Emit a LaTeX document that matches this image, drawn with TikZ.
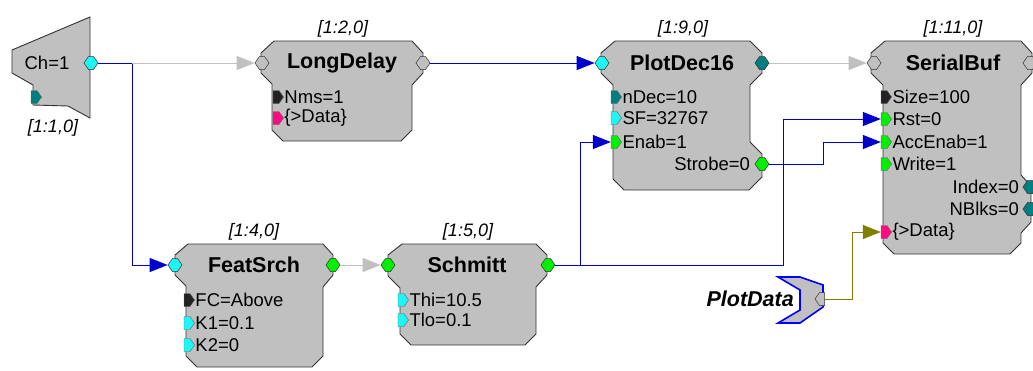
\documentclass[tikz,border=0pt]{standalone}
\usepackage{fontspec}
\setmainfont{Liberation Sans}
\usetikzlibrary{arrows.meta,shapes.symbols}
\definecolor{blockgray}{HTML}{C0C0C0}
\definecolor{wireblue}{HTML}{0000CC}
\definecolor{wiregray}{HTML}{C0C0C0}
\definecolor{wireolive}{HTML}{808000}
\definecolor{pcyan}{HTML}{1EF5F5}
\definecolor{pteal}{HTML}{007F80}
\definecolor{pgreen}{HTML}{00F000}
\definecolor{pmag}{HTML}{FF0A82}
\definecolor{pblack}{HTML}{222222}

\begin{document}
\begin{tikzpicture}[x=1pt,y=-1pt,
    block/.style={fill=blockgray,draw=black!80,line width=0.9pt},
    pin/.style={signal,signal to=east and west,signal pointer angle=110,draw=black!80,line width=0.5pt,
      inner xsep=2.5pt,inner ysep=6.5pt,minimum width=0pt,minimum height=0pt},
    par/.style={signal,signal to=east,signal pointer angle=110,draw=black!60,line width=0.4pt,
      inner xsep=3pt,inner ysep=6.5pt,minimum width=0pt,minimum height=0pt},
    title/.style={font=\fontsize{21.5}{24}\selectfont\bfseries,inner sep=0pt},
    lbl/.style={font=\fontsize{18}{22}\selectfont\itshape,inner sep=0pt},
    txt/.style={font=\fontsize{18.5}{22}\selectfont,inner sep=0.5pt},
    wire/.style={draw=wireblue,line width=1pt},
    graywire/.style={draw=wiregray,line width=1pt},
    olivewire/.style={draw=wireolive,line width=1pt},
    tip/.style={-{Triangle[length=18pt,width=14pt]}}]
  \useasboundingbox (0,0) rectangle (1033,370);
  % blocks
  \draw[block] (90,17) -- (12,50) -- (12,73) -- (33,85) -- (33,105) -- (68,106) -- (90,118) -- cycle;
  \draw[block] (274,41) -- (412,41) -- (423,53) -- (423,73) -- (412,85) -- (412,130) -- (401,141)
    -- (283,141) -- (272,130) -- (272,84) -- (261,73) -- (261,53) -- cycle;
  \draw[block] (615,41) -- (750,41) -- (762,53) -- (762,73) -- (750,85) -- (750,142) -- (762,154)
    -- (762,177) -- (749,190) -- (624,190) -- (613,179) -- (613,85) -- (601,73) -- (601,53) -- cycle;
  \draw[block] (885,41) -- (1021,41) -- (1032,53) -- (1032,73) -- (1021,85) -- (1021,175) -- (1031,186)
    -- (1031,222) -- (1021,233) -- (1021,243) -- (1010,254) -- (894,254) -- (883,243) -- (883,85)
    -- (871,73) -- (871,53) -- cycle;
  \draw[block] (188,244) -- (323,244) -- (333,255) -- (333,275) -- (323,287) -- (323,356) -- (312,367)
    -- (197,367) -- (186,356) -- (186,286) -- (175,275) -- (175,255) -- cycle;
  \draw[block] (402,244) -- (536,244) -- (547,255) -- (547,275) -- (536,287) -- (536,334) -- (525,345)
    -- (411,345) -- (400,334) -- (400,288) -- (388,276) -- (388,255) -- cycle;
  \draw[fill=blockgray,draw=blue,line width=1.6pt] (778,277) -- (800,277) -- (823,285) -- (823,307)
    -- (800,323) -- (778,323) -- (800,310) -- (800,290) -- cycle;
  % ports
  \node[pin,fill=pcyan] (chout) at (91,63) {};
  \node[par,fill=pteal] (chpar) at (34,97) {};
  \node[pin,fill=blockgray] (ldin) at (262,63) {};
  \node[pin,fill=blockgray] (ldout) at (423,63) {};
  \node[par,fill=pblack] (ldnms) at (276,97) {};
  \node[par,fill=pmag] (lddata) at (276,118) {};
  \node[pin,fill=pcyan] (pdin) at (602,63) {};
  \node[pin,fill=pteal] (pdout) at (762,63) {};
  \node[par,fill=pteal] (ndec) at (614,97) {};
  \node[par,fill=pcyan] (sf) at (614,118) {};
  \node[par,fill=pgreen] (enab) at (614,142) {};
  \node[pin,fill=pgreen] (strobe) at (762,164) {};
  \node[pin,fill=blockgray] (sbin) at (874,63) {};
  \node[pin,fill=blockgray] (sbout) at (1030,63) {};
  \node[par,fill=pblack] (size) at (884,97) {};
  \node[par,fill=pgreen] (rst) at (884,119) {};
  \node[par,fill=pgreen] (acc) at (884,142) {};
  \node[par,fill=pgreen] (write) at (884,164) {};
  \node[pin,fill=pteal] (index) at (1030,187) {};
  \node[pin,fill=pteal] (nblks) at (1030,209) {};
  \node[par,fill=pmag] (sbdata) at (884,232) {};
  \node[pin,fill=pcyan] (fsin) at (175,265) {};
  \node[pin,fill=pgreen] (fsout) at (333,265) {};
  \node[par,fill=pblack] (fc) at (187,300) {};
  \node[par,fill=pcyan] (kone) at (187,323) {};
  \node[par,fill=pcyan] (ktwo) at (187,345) {};
  \node[pin,fill=pgreen] (scin) at (388,265) {};
  \node[pin,fill=pgreen] (scout) at (548,265) {};
  \node[par,fill=pcyan] (thi) at (401,300) {};
  \node[par,fill=pcyan] (tlo) at (401,320) {};
  \node[pin,signal to=west,fill=blockgray] (pltout) at (822,299) {};
  % wires
  \coordinate (split) at (132,63);
  \coordinate (j1) at (580,265);
  \coordinate (j2) at (783,265);
  \coordinate (j3) at (823,164);
  \coordinate (j4) at (852,299);
  \draw[wire,tip] (chout) -- (split) |- (fsin);
  \draw[graywire,tip] (split) -- (ldin);
  \draw[wire,tip] (ldout) -- (pdin);
  \draw[graywire,tip] (pdout) -- (sbin);
  \draw[graywire,tip] (fsout) -- (scin);
  \draw[wire,tip] (scout) -- (j1) |- (enab);
  \draw[wire,tip] (j1) -- (j2) |- (rst);
  \draw[wire,tip] (strobe) -- (j3) |- (acc);
  \draw[olivewire,tip] (pltout) -- (j4) |- (sbdata);
  % texts
  \node[txt] (chtxt) at (47,63) {Ch=1};
  \node[lbl] (chlbl) at (53,128) {[1:1,0]};
  \node[title] (ldtitle) at (342,63) {LongDelay};
  \node[lbl] (ldlbl) at (343,29) {[1:2,0]};
  \node[txt,anchor=west] (ldnmstxt) at (ldnms.east) {Nms=1};
  \node[txt,anchor=west] (lddatatxt) at (lddata.east) {\{>Data\}};
  \node[title] (pdtitle) at (682,63) {PlotDec16};
  \node[lbl] (pdlbl) at (683,29) {[1:9,0]};
  \node[txt,anchor=west] (ndectxt) at (ndec.east) {nDec=10};
  \node[txt,anchor=west] (sftxt) at (sf.east) {SF=32767};
  \node[txt,anchor=west] (enabtxt) at (enab.east) {Enab=1};
  \node[txt,anchor=east] (strobetxt) at ([xshift=-4pt]strobe.west) {Strobe=0};
  \node[title] (sbtitle) at (953,63) {SerialBuf};
  \node[lbl] (sblbl) at (953,29) {[1:11,0]};
  \node[txt,anchor=west] (sizetxt) at (size.east) {Size=100};
  \node[txt,anchor=west] (rsttxt) at (rst.east) {Rst=0};
  \node[txt,anchor=west] (acctxt) at (acc.east) {AccEnab=1};
  \node[txt,anchor=west] (writetxt) at (write.east) {Write=1};
  \node[txt,anchor=east] (indextxt) at ([xshift=-3pt]index.west) {Index=0};
  \node[txt,anchor=east] (nblkstxt) at ([xshift=-3pt]nblks.west) {NBlks=0};
  \node[txt,anchor=west] (sbdatatxt) at (sbdata.east) {\{>Data\}};
  \node[title] (fstitle) at (254,265) {FeatSrch};
  \node[lbl] (fslbl) at (254,232) {[1:4,0]};
  \node[txt,anchor=west] (fctxt) at (fc.east) {FC=Above};
  \node[txt,anchor=west] (konetxt) at (kone.east) {K1=0.1};
  \node[txt,anchor=west] (ktwotxt) at (ktwo.east) {K2=0};
  \node[title] (sctitle) at (467,265) {Schmitt};
  \node[lbl] (sclbl) at (468,232) {[1:5,0]};
  \node[txt,anchor=west] (thitxt) at (thi.east) {Thi=10.5};
  \node[txt,anchor=west] (tlotxt) at (tlo.east) {Tlo=0.1};
  \node[title,font=\fontsize{21.5}{24}\selectfont\bfseries\itshape,anchor=east] (plttxt) at (794,299) {PlotData};
\end{tikzpicture}
\end{document}
